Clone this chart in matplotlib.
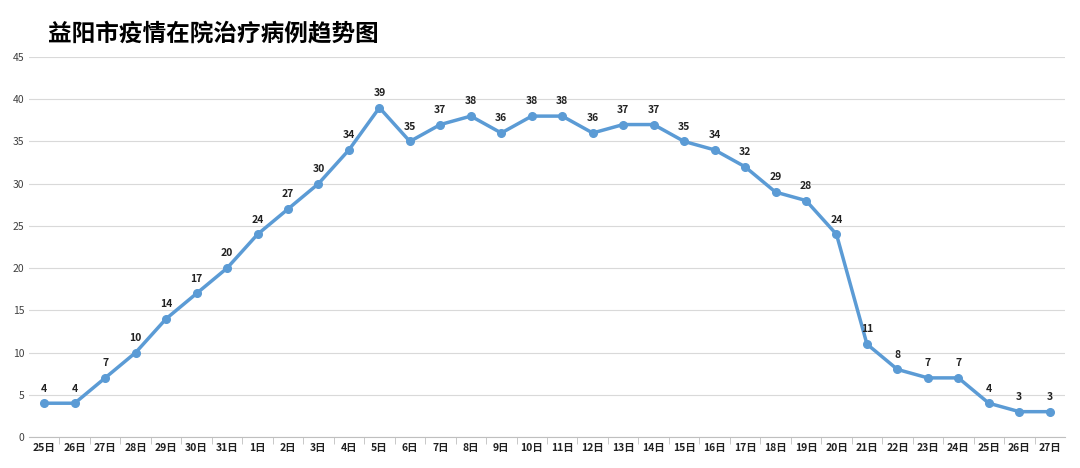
import matplotlib
matplotlib.use("Agg")
import matplotlib.pyplot as plt

labels = ["25日","26日","27日","28日","29日","30日","31日"] + [f"{d}日" for d in range(1,25)] + ["25日","26日","27日"]
values = [4,4,7,10,14,17,20,24,27,30,34,39,35,37,38,36,38,38,36,37,37,35,34,32,29,28,24,11,8,7,7,4,3,3]

plt.rcParams["font.family"] = "Noto Sans CJK SC"
fig = plt.figure(figsize=(10.8,4.68), dpi=100)
ax = fig.add_axes([29/1080, 1-437/468, (1065-29)/1080, (437-57)/468])
x = list(range(len(values)))
ax.plot(x, values, color="#5B9BD5", lw=2.5, marker="o", ms=5.5, zorder=3)
for xi, v in zip(x, values):
    ax.annotate(str(v), (xi, v), xytext=(0, 7), textcoords="offset points",
                ha="center", va="bottom", fontsize=7.5, fontweight="bold", color="#222222")
ax.set_xlim(-0.5, len(values)-0.5)
ax.set_ylim(0, 45)
ax.set_yticks(range(0, 46, 5))
ax.set_xticks(x)
ax.set_xticklabels(labels, fontsize=7.5, fontweight="bold")
ax.tick_params(axis="y", labelsize=7.5, length=0, colors="#404040")
ax.tick_params(axis="x", length=0, colors="#222222", pad=4)
ax.set_xticks([i+0.5 for i in x[:-1]], minor=True)
ax.tick_params(axis="x", which="minor", length=5, color="#bfbfbf")
ax.grid(axis="y", color="#d9d9d9", lw=0.8)
ax.set_axisbelow(True)
for s in ["top","right","left"]:
    ax.spines[s].set_visible(False)
ax.spines["bottom"].set_color("#bfbfbf")
fig.text(48/1080, 1-33/468, "益阳市疫情在院治疗病例趋势图", fontsize=17, fontweight="bold", va="center", ha="left")
fig.savefig("out.png", dpi=100, facecolor="white")
